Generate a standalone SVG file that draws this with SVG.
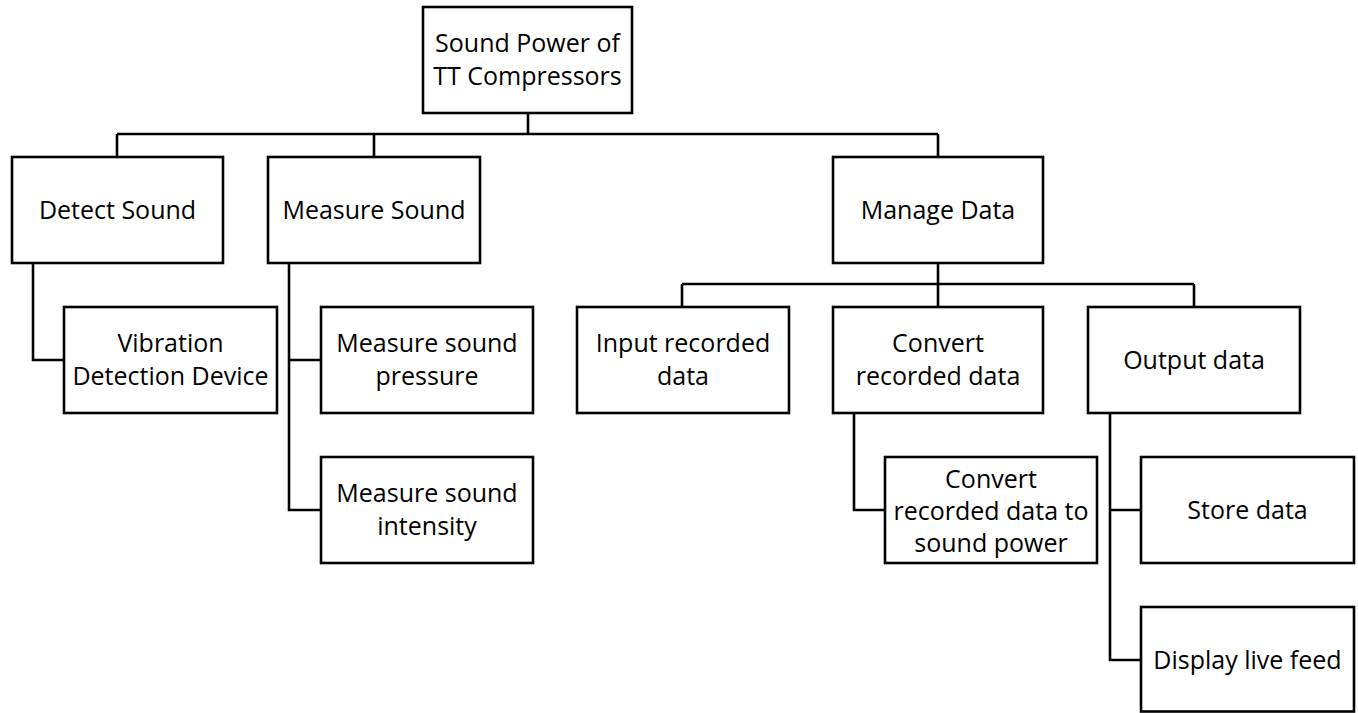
<svg xmlns="http://www.w3.org/2000/svg" width="1358" height="713" viewBox="0 0 1358 713">
<style>
.box{fill:#fff;stroke:#000;stroke-width:2.6}
.lbl{font-family:"Open Sans","Liberation Sans",sans-serif;font-size:25px;fill:#000;text-anchor:middle}
.conn{fill:none;stroke:#000;stroke-width:2.6}
</style>
<rect width="1358" height="713" fill="#fff"/>
<g id="connectors" class="conn">
<path d="M528 113V134M117 134H938M117 134V157M374 134V157M938 134V157"/>
<path d="M33 263V360H64"/>
<path d="M289 263V510H321M289 360H321"/>
<path d="M938 263V307M682 284H1194M682 284V307M1194 284V307"/>
<path d="M854 413V510H885"/>
<path d="M1110 413V660H1141M1110 510H1141"/>
</g>
<g id="root"><rect class="box" x="423" y="7" width="209" height="106"/><text class="lbl"><tspan x="527.5" y="51.5">Sound Power of</tspan><tspan x="527.5" y="85">TT Compressors</tspan></text></g>
<g id="detect"><rect class="box" x="12" y="157" width="211" height="106"/><text class="lbl" x="117.5" y="219">Detect Sound</text></g>
<g id="measure"><rect class="box" x="268" y="157" width="212" height="106"/><text class="lbl" x="374" y="219">Measure Sound</text></g>
<g id="manage"><rect class="box" x="833" y="157" width="210" height="106"/><text class="lbl" x="938" y="219">Manage Data</text></g>
<g id="vibration"><rect class="box" x="64" y="307" width="213" height="106"/><text class="lbl"><tspan x="170.5" y="351.7">Vibration</tspan><tspan x="170.5" y="385">Detection Device</tspan></text></g>
<g id="pressure"><rect class="box" x="321" y="307" width="212" height="106"/><text class="lbl"><tspan x="427" y="351.7">Measure sound</tspan><tspan x="427" y="385">pressure</tspan></text></g>
<g id="intensity"><rect class="box" x="321" y="457" width="212" height="106"/><text class="lbl"><tspan x="427" y="501.7">Measure sound</tspan><tspan x="427" y="535">intensity</tspan></text></g>
<g id="input"><rect class="box" x="577" y="307" width="212" height="106"/><text class="lbl"><tspan x="683" y="351.7">Input recorded</tspan><tspan x="683" y="385">data</tspan></text></g>
<g id="convert"><rect class="box" x="833" y="307" width="210" height="106"/><text class="lbl"><tspan x="938" y="351.7">Convert</tspan><tspan x="938" y="385">recorded data</tspan></text></g>
<g id="convert-power"><rect class="box" x="885" y="457" width="212" height="106"/><text class="lbl"><tspan x="991" y="488">Convert</tspan><tspan x="991" y="519.5">recorded data to</tspan><tspan x="991" y="552">sound power</tspan></text></g>
<g id="output"><rect class="box" x="1088" y="307" width="212" height="106"/><text class="lbl" x="1194" y="369">Output data</text></g>
<g id="store"><rect class="box" x="1141" y="457" width="213" height="106"/><text class="lbl" x="1247.5" y="519">Store data</text></g>
<g id="display"><rect class="box" x="1141" y="607" width="213" height="104.5"/><text class="lbl" x="1247.5" y="668.5">Display live feed</text></g>
</svg>
